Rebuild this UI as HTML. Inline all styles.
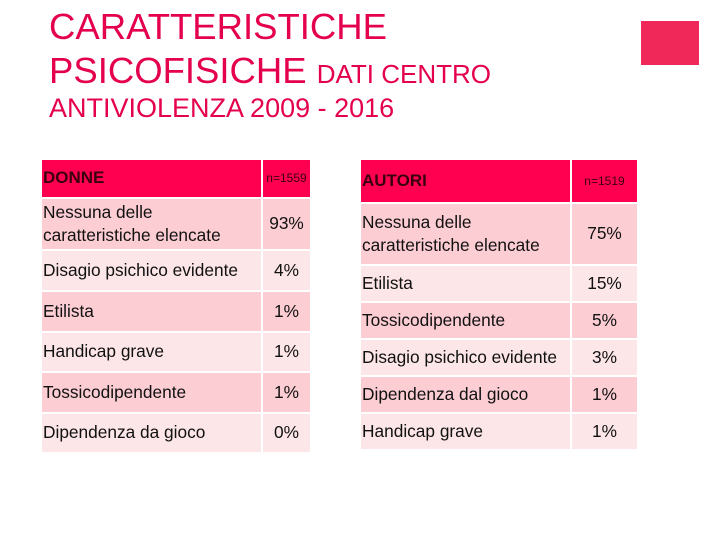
<!DOCTYPE html>
<html><head><meta charset="utf-8"><style>
body{margin:0;width:720px;height:540px;background:#fff;position:relative;overflow:hidden;font-family:"Liberation Sans",sans-serif;}
.t{position:absolute;color:#e4004f;white-space:nowrap;}
.c{position:absolute;box-sizing:border-box;display:flex;align-items:center;font-size:17.3px;color:#111;line-height:1.35;white-space:nowrap;}
.n{justify-content:center;}
</style></head><body>
<div class="t" style="left:49px;top:6px;font-size:36.5px;">CARATTERISTICHE</div>
<div class="t" style="left:49px;top:50px;font-size:36.5px;">PSICOFISICHE <span style="font-size:26px">DATI CENTRO</span></div>
<div class="t" style="left:49px;top:93px;font-size:27px;">ANTIVIOLENZA 2009 - 2016</div>
<div style="position:absolute;left:641px;top:21px;width:58px;height:44px;background:#f0285a;"></div>
<script>
const donneLabels=["Nessuna delle<br>caratteristiche elencate","Disagio psichico evidente","Etilista","Handicap grave","Tossicodipendente","Dipendenza da gioco"];
const donneValues=["93%","4%","1%","1%","1%","0%"];
const autoriLabels=["Nessuna delle<br>caratteristiche elencate","Etilista","Tossicodipendente","Disagio psichico evidente","Dipendenza dal gioco","Handicap grave"];
const autoriValues=["75%","15%","5%","3%","1%","1%"];
function table(name,x0,xs,x1,rowsY,head,n,labels,vals){
  const all=[[head,n]].concat(labels.map((l,i)=>[l,vals[i]]));
  all.forEach((r,i)=>{
    const y=rowsY[i],h=rowsY[i+1]-y-2;
    const bg=i==0?"#ff0050":(i%2?"#fccdd3":"#fde6e8");
    const a=document.createElement('div');
    a.className='c';
    
    
    a.style.cssText=`left:${x0}px;top:${y}px;width:${xs-x0}px;height:${h}px;background:${bg};padding-left:1px;`+(i==0?'font-weight:bold;color:#3a0010;font-size:17px;':'');
    a.innerHTML=r[0];document.body.appendChild(a);
    const b=document.createElement('div');
    b.className='c n';
    
    
    b.style.cssText=`left:${xs+2}px;top:${y}px;width:${x1-xs-2}px;height:${h}px;background:${bg};`+(i==0?'font-size:12px;color:#3a0010;':'');
    b.innerHTML=r[1];document.body.appendChild(b);
  });
}
table('donne',42,261,310,[160,199,251,292,333,373,414,454],'DONNE','n=1559',donneLabels,donneValues);
table('autori',361,570,637,[160,204,266,303,340,377,414,451],'AUTORI','n=1519',autoriLabels,autoriValues);
</script>
</body></html>
